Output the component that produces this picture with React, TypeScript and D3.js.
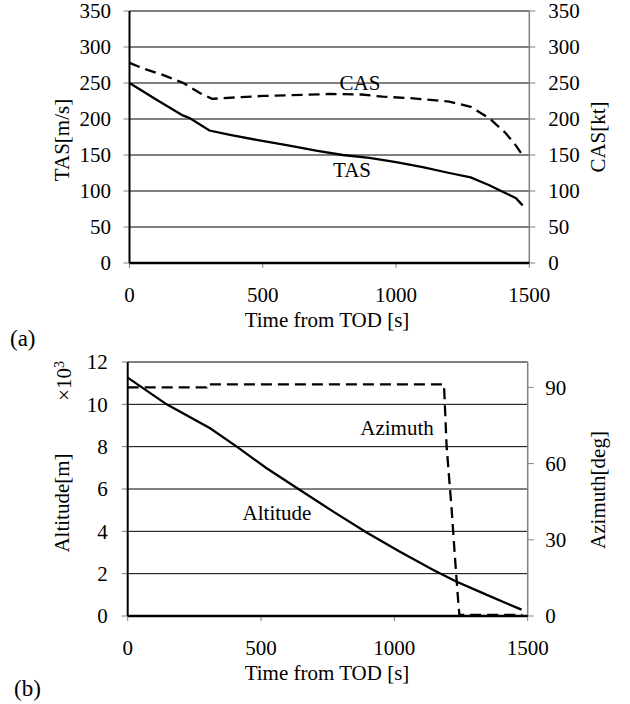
import React from "react";
import * as d3 from "d3";

// ---- Data (a) ----
const tasTime = [0, 100, 200, 227, 300, 377, 477, 600, 700, 800, 900, 1000, 1100, 1200, 1280, 1350, 1400, 1450, 1475];
const tasValue = [250, 227, 205, 201, 184, 178, 171, 163, 156, 150, 146, 140, 133, 125, 119, 108, 99, 90, 80];
const casTime = [0, 52, 127, 202, 264, 310, 400, 502, 600, 752, 870, 950, 1050, 1150, 1200, 1280, 1350, 1410, 1450, 1470];
const casValue = [278, 270, 261, 250, 236, 228, 230, 232, 233, 234.7, 234, 231, 229, 226, 224, 217, 201, 181, 163, 152];
const xTicks = [0, 500, 1000, 1500];
const yTicksA = [0, 50, 100, 150, 200, 250, 300, 350];

// ---- Data (b) ----
const altTime = [0, 146, 309, 409, 521, 646, 771, 896, 1021, 1146, 1234, 1334, 1420, 1477];
const altValue = [11.26, 10.0, 8.87, 8.0, 6.98, 5.95, 4.93, 3.95, 3.04, 2.17, 1.62, 1.07, 0.6, 0.3];
const aziTime = [0, 296, 297, 1186, 1196, 1215, 1227, 1240, 1244, 1480];
const aziValue = [90, 90, 91.2, 91.2, 66.7, 41.7, 23.3, 5, 0.4, 0.4];
const yTicksAlt = [0, 2, 4, 6, 8, 10, 12];
const yTicksAzi = [0, 30, 60, 90];

const FONT = "'Liberation Serif', 'Times New Roman', Times, serif";
const FS = 21;
const GRAY = "#808080";

export default function App() {
  // chart (a)
  const xa = d3.scaleLinear().domain([0, 1500]).range([129.5, 529.3]);
  const ya = d3.scaleLinear().domain([0, 350]).range([263, 11]);
  // chart (b)
  const xb = d3.scaleLinear().domain([0, 1500]).range([127.7, 527.7]);
  const yb = d3.scaleLinear().domain([0, 12]).range([616, 362]);
  const yr = d3.scaleLinear().domain([0, 100]).range([616, 362]);

  const lineA = (ts: number[], vs: number[]) =>
    d3.line<number>().x((_, i) => xa(ts[i])).y((v) => ya(v))(vs) || "";
  const lineB = (ts: number[], vs: number[], s: d3.ScaleLinear<number, number>) =>
    d3.line<number>().x((_, i) => xb(ts[i])).y((v) => s(v))(vs) || "";

  const txt = { fontFamily: FONT, fontSize: FS, fill: "#000" } as const;

  return (
    <svg width={630} height={704} style={{ position: "absolute", left: 0, top: 0, background: "#fff" }}>
      <rect x={0} y={0} width={630} height={704} fill="#fff" />
      {/* ===== Chart (a) ===== */}
      <g>
        {yTicksA.map((t) => (
          <g key={"ga" + t}>
            {t > 0 && <line x1={xa(0)} x2={xa(1500)} y1={ya(t)} y2={ya(t)} stroke="#000" strokeWidth={1} />}
            <line x1={xa(0) - 6} x2={xa(0)} y1={ya(t)} y2={ya(t)} stroke={GRAY} strokeWidth={1} />
            <line x1={xa(1500)} x2={xa(1500) + 6} y1={ya(t)} y2={ya(t)} stroke={GRAY} strokeWidth={1} />
            <text x={xa(0) - 18.5} y={ya(t)} dy="0.35em" textAnchor="end" style={txt}>{t}</text>
            <text x={xa(1500) + 19} y={ya(t)} dy="0.35em" textAnchor="start" style={txt}>{t}</text>
          </g>
        ))}
        {xTicks.map((t) => (
          <g key={"xa" + t}>
            <line x1={xa(t)} x2={xa(t)} y1={ya(0)} y2={ya(0) + 5} stroke={GRAY} strokeWidth={1} />
            <text x={xa(t)} y={ya(0) + 32} dy="0.35em" textAnchor="middle" style={txt}>{t}</text>
          </g>
        ))}
        <line x1={xa(1500)} x2={xa(1500)} y1={ya(350)} y2={ya(0)} stroke={GRAY} strokeWidth={1.5} />
        <line x1={xa(0)} x2={xa(0)} y1={ya(350)} y2={ya(0)} stroke="#000" strokeWidth={2} />
        <line x1={xa(0)} x2={xa(1500)} y1={ya(0)} y2={ya(0)} stroke="#000" strokeWidth={2.5} />
        <path d={lineA(casTime, casValue)} fill="none" stroke="#000" strokeWidth={2.3} strokeDasharray="11,6" />
        <path d={lineA(tasTime, tasValue)} fill="none" stroke="#000" strokeWidth={2.3} />
        <text x={360} y={90} textAnchor="middle" style={txt}>CAS</text>
        <text x={352} y={177} textAnchor="middle" style={txt}>TAS</text>
        <text transform="translate(69,140) rotate(-90)" textAnchor="middle" style={txt}>TAS[m/s]</text>
        <text transform="translate(605,137) rotate(-90)" textAnchor="middle" style={txt}>CAS[kt]</text>
        <text x={327} y={327} textAnchor="middle" style={txt}>Time from TOD [s]</text>
        <text x={10} y={346} style={{ ...txt, fontSize: 23 }}>(a)</text>
      </g>

      {/* ===== Chart (b) ===== */}
      <g>
        {yTicksAlt.map((t) => (
          <g key={"gb" + t}>
            {t > 0 && <line x1={xb(0)} x2={xb(1500)} y1={yb(t)} y2={yb(t)} stroke="#000" strokeWidth={1} />}
            <line x1={xb(0) - 6} x2={xb(0)} y1={yb(t)} y2={yb(t)} stroke={GRAY} strokeWidth={1} />
            <text x={xb(0) - 20} y={yb(t)} dy="0.35em" textAnchor="end" style={txt}>{t}</text>
          </g>
        ))}
        {yTicksAzi.map((t) => (
          <g key={"az" + t}>
            <line x1={xb(1500)} x2={xb(1500) + 6} y1={yr(t)} y2={yr(t)} stroke={GRAY} strokeWidth={1} />
            <text x={xb(1500) + 17.5} y={yr(t)} dy="0.35em" textAnchor="start" style={txt}>{t}</text>
          </g>
        ))}
        {xTicks.map((t) => (
          <g key={"xb" + t}>
            <line x1={xb(t)} x2={xb(t)} y1={yb(0)} y2={yb(0) + 5} stroke={GRAY} strokeWidth={1} />
            <text x={xb(t)} y={yb(0) + 32} dy="0.35em" textAnchor="middle" style={txt}>{t}</text>
          </g>
        ))}
        <line x1={xb(1500)} x2={xb(1500)} y1={yb(12)} y2={yb(0)} stroke={GRAY} strokeWidth={1.5} />
        <line x1={xb(0)} x2={xb(0)} y1={yb(12)} y2={yb(0)} stroke="#000" strokeWidth={2} />
        <line x1={xb(0)} x2={xb(1500)} y1={yb(0)} y2={yb(0)} stroke="#000" strokeWidth={2.5} />
        <path d={lineB(aziTime, aziValue, yr)} fill="none" stroke="#000" strokeWidth={2.3} strokeDasharray="11,6" />
        <path d={lineB(altTime, altValue, yb)} fill="none" stroke="#000" strokeWidth={2.3} />
        <text x={397} y={435} textAnchor="middle" style={txt}>Azimuth</text>
        <text x={277} y={520} textAnchor="middle" style={txt}>Altitude</text>
        <text transform="translate(69,503) rotate(-90)" textAnchor="middle" style={txt}>Altitude[m]</text>
        <text transform="translate(71,381) rotate(-90)" textAnchor="middle" style={txt}>
          ×10<tspan dy="-7" fontSize={14}>3</tspan>
        </text>
        <text transform="translate(605,490) rotate(-90)" textAnchor="middle" style={txt}>Azimuth[deg]</text>
        <text x={327} y={680} textAnchor="middle" style={txt}>Time from TOD [s]</text>
        <text x={14} y={696} style={{ ...txt, fontSize: 23 }}>(b)</text>
      </g>
    </svg>
  );
}
